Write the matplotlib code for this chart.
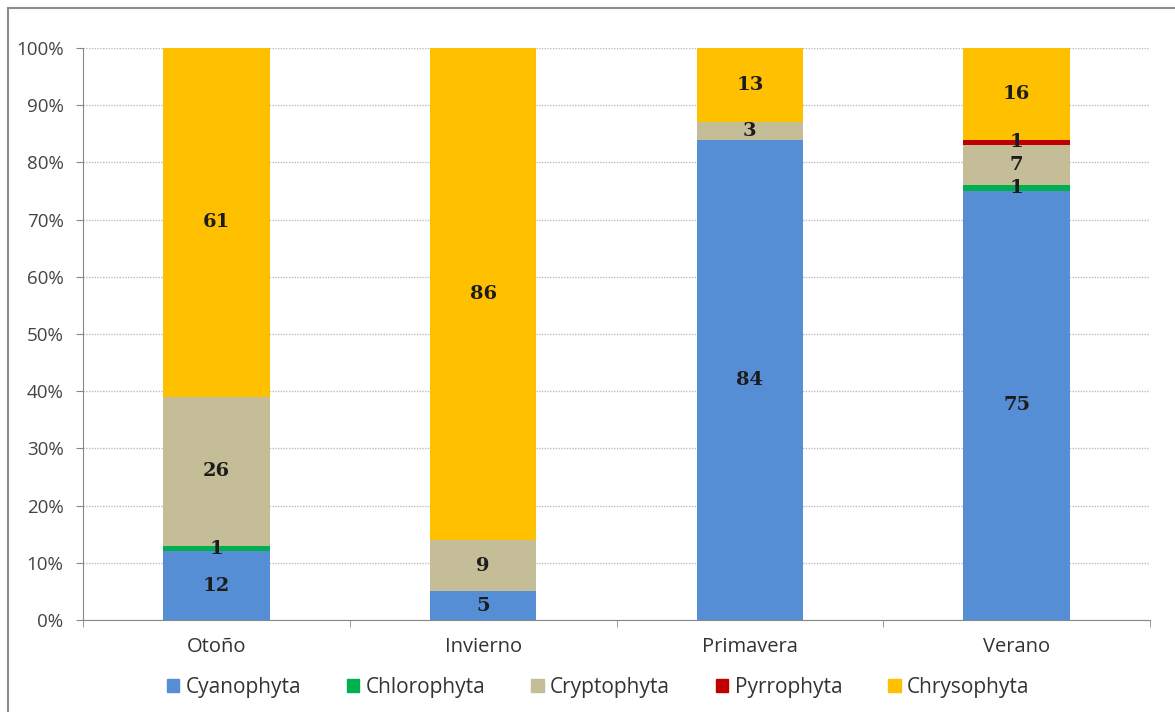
import matplotlib
matplotlib.use("Agg")
import matplotlib.pyplot as plt
from matplotlib.lines import Line2D
from matplotlib.ticker import MultipleLocator, FuncFormatter
import numpy as np

# Estaciones y porcentaje de cada grupo de fitoplancton
seasons = ["Otoño", "Invierno", "Primavera", "Verano"]
groups = ["Cyanophyta", "Chlorophyta", "Cryptophyta", "Pyrrophyta", "Chrysophyta"]
cyanophyta = [12, 5, 84, 75]
chlorophyta = [1, 0, 0, 1]
cryptophyta = [26, 9, 3, 7]
pyrrophyta = [0, 0, 0, 1]
chrysophyta = [61, 86, 13, 16]
colors = ["#558ED5", "#00B050", "#C4BD97", "#C00000", "#FFC000"]

series = [cyanophyta, chlorophyta, cryptophyta, pyrrophyta, chrysophyta]

fig = plt.figure(figsize=(11.75, 7.12), dpi=100)
ax = fig.add_axes([83 / 1175, 92 / 712, 1067 / 1175, 572 / 712])

x = np.arange(len(seasons))
bottom = np.zeros(len(seasons))
for name, vals, col in zip(groups, series, colors):
    vals = np.array(vals, dtype=float)
    ax.bar(x, vals, width=0.4, bottom=bottom, color=col, label=name,
           edgecolor="none", zorder=3)
    for xi, b, v in zip(x, bottom, vals):
        if v > 0:
            ax.text(xi, b + v / 2, f"{int(v)}", ha="center", va="center",
                    fontsize=14, fontweight="bold", family="DejaVu Serif",
                    color="#1c1c1c", zorder=4)
    bottom += vals

ax.set_xlim(-0.5, len(seasons) - 0.5)
ax.set_ylim(0, 100)
ax.yaxis.set_major_locator(MultipleLocator(10))
ax.yaxis.set_major_formatter(FuncFormatter(lambda v, p: f"{int(v)}%"))
ax.grid(axis="y", linestyle=(0, (1, 1)), color="#bdbdbd", linewidth=1.0, zorder=0)

ax.set_xticks(x)
ax.set_xticklabels(seasons)
ax.set_xticks(np.arange(len(seasons) + 1) - 0.5, minor=True)
ax.tick_params(axis="x", which="major", length=0, pad=12, labelsize=14.5,
               labelcolor="#333333")
ax.tick_params(axis="x", which="minor", length=5, color="#888888", direction="out")
ax.tick_params(axis="y", length=5, color="#888888", labelsize=13.5,
               labelcolor="#444444", pad=9)
for lbl in ax.get_xticklabels() + ax.get_yticklabels():
    lbl.set_family("Open Sans")

for s in ["top", "right"]:
    ax.spines[s].set_visible(False)
ax.spines["left"].set_color("#888888")
ax.spines["bottom"].set_color("#888888")

handles = [plt.Rectangle((0, 0), 1, 1, color=c) for c in colors]
fig.legend(handles, groups, loc="center", bbox_to_anchor=(598 / 1175, 25 / 712),
           ncol=5, frameon=False, prop={"family": "Open Sans", "size": 15},
           handlelength=0.6, handleheight=0.6, handletextpad=0.3,
           columnspacing=2.2, labelcolor="#333333")

# Marco del gráfico
fig.add_artist(Line2D([8 / 1175, 8 / 1175], [0, 1 - 8 / 712],
                      transform=fig.transFigure, color="#8c8c8c", lw=1.5))
fig.add_artist(Line2D([8 / 1175, 1], [1 - 8 / 712, 1 - 8 / 712],
                      transform=fig.transFigure, color="#8c8c8c", lw=1.5))

fig.savefig("out.png", dpi=100)
